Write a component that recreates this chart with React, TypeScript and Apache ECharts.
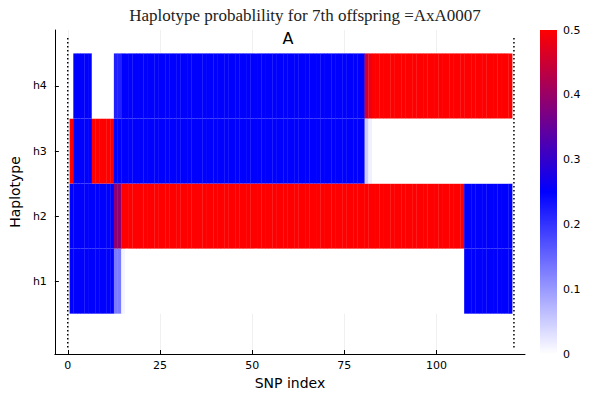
import React, { useEffect, useRef } from "react";
import * as echarts from "echarts";

const haplotypes = ["h1", "h2", "h3", "h4"];
const xTicks = [0, 25, 50, 75, 100];
const colorbarTicks = [0, 0.1, 0.2, 0.3, 0.4, 0.5];
// run-length segments: [firstSNP, lastSNP, probability]
const h1Runs = [[1, 12, 0.25], [13, 14, 0.13], [15, 15, 0.01], [16, 107, 0], [108, 120, 0.25]];
const h2Runs = [[1, 12, 0.25], [13, 14, 0.39], [15, 107, 0.5], [108, 120, 0.25]];
const h3Runs = [[1, 1, 0.5], [2, 6, 0.25], [7, 12, 0.5], [13, 80, 0.25], [81, 81, 0.05], [82, 82, 0.015], [83, 120, 0]];
const h4Runs = [[1, 1, 0], [2, 6, 0.25], [7, 12, 0], [13, 14, 0.22], [15, 80, 0.25], [81, 81, 0.45], [82, 82, 0.48], [83, 120, 0.5]];
const vlines = [0, 121];

export default function App() {
  const ref = useRef<HTMLDivElement>(null);
  useEffect(() => {
    const chart = echarts.init(ref.current!, null, { renderer: "svg" });
    const data: number[][] = [];
    [h1Runs, h2Runs, h3Runs, h4Runs].forEach((runs, r) => {
      runs.forEach(([a, b, v]) => {
        for (let i = a; i <= b; i++) data.push([i, r + 1, v]);
      });
    });
    const font = "DejaVu Sans";
    chart.setOption({
      animation: false,
      title: {
        text: "Haplotype probablility for 7th offspring =AxA0007",
        left: 300, top: 2, textAlign: "center",
        textStyle: { fontFamily: "Liberation Serif", fontWeight: "normal", fontSize: 17, color: "#222" },
      },
      grid: { left: 50, right: 75, top: 30, bottom: 46 },
      visualMap: { show: false, min: 0, max: 0.5, dimension: 2, seriesIndex: 0, inRange: { color: ["#ffffff", "#0000ff", "#ff0000"] } },
      xAxis: {
        type: "value", min: -3.5, max: 124, name: "SNP index", nameLocation: "middle", nameGap: 22,
        nameTextStyle: { fontFamily: font, fontSize: 14, color: "#000" },
        axisLine: { onZero: false, lineStyle: { color: "#000" } },
        axisTick: { customValues: xTicks, inside: true, length: 4, lineStyle: { color: "#000" } },
        axisLabel: { customValues: xTicks, fontFamily: font, fontSize: 11, color: "#000", margin: 6 },
        splitLine: { show: true, lineStyle: { color: "#f0f0f0" } },
      },
      yAxis: {
        type: "value", min: -0.12, max: 4.86, name: "Haplotype", nameLocation: "middle", nameGap: 32,
        nameTextStyle: { fontFamily: font, fontSize: 14, color: "#000" },
        axisLine: { show: true, onZero: false, lineStyle: { color: "#000" } },
        axisTick: { show: true, customValues: [1, 2, 3, 4], inside: true, length: 4, lineStyle: { color: "#000" } },
        axisLabel: { customValues: [1, 2, 3, 4], formatter: (v: number) => haplotypes[Math.round(v) - 1] || "", fontFamily: font, fontSize: 11, color: "#000", margin: 8 },
        splitLine: { show: false },
      },
      series: [
        {
          type: "custom", data,
          renderItem: (params: any, api: any) => {
            const x = api.value(0), y = api.value(1);
            const p1 = api.coord([x - 0.5, y + 0.5]);
            const p2 = api.coord([x + 0.5, y - 0.5]);
            return { type: "rect", shape: { x: p1[0], y: p1[1], width: p2[0] - p1[0] + 0.3, height: p2[1] - p1[1] }, style: { fill: api.visual("color") } };
          },
        },
        ...vlines.map((x) => ({
          type: "line", data: [[x, -0.02], [x, 4.75]], symbol: "none",
          lineStyle: { color: "#000", type: [1.5, 2.5], width: 1.5 },
        })),
      ],
      graphic: [
        { type: "text", x: 288, y: 30, style: { text: "A", font: `16px ${font}`, fill: "#000", textAlign: "center" } },
        {
          type: "rect", shape: { x: 540, y: 30, width: 17, height: 324 },
          style: { fill: new echarts.graphic.LinearGradient(0, 0, 0, 1, [{ offset: 0, color: "#ff0000" }, { offset: 0.5, color: "#0000ff" }, { offset: 1, color: "#ffffff" }]) },
        },
        ...colorbarTicks.map((t) => ({
          type: "text", x: 563, y: 354 - (t / 0.5) * 324,
          style: { text: String(t), font: `11px ${font}`, fill: "#000", textVerticalAlign: "middle" },
        })),
      ],
    });
    return () => chart.dispose();
  }, []);
  return <div ref={ref} style={{ width: 600, height: 400, margin: -8 }} />;
}
